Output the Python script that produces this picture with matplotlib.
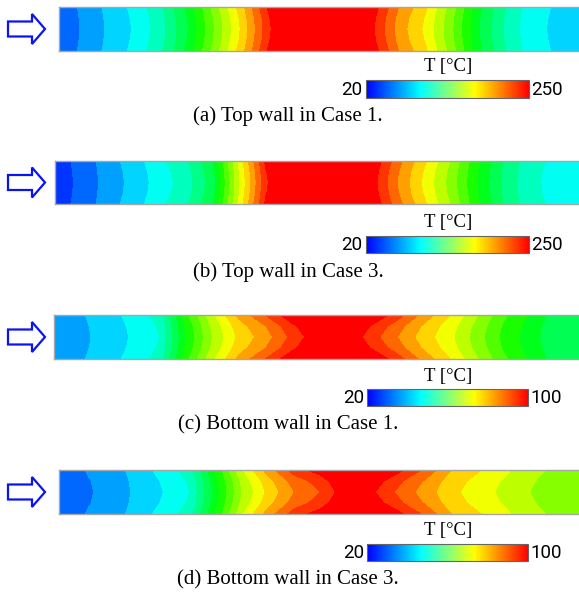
"""
Wall temperature contours for the top and bottom walls, Case 1 and Case 3.
"""

import matplotlib

matplotlib.use("Agg")

import matplotlib.pyplot as plt
import numpy as np
from matplotlib.cm import ScalarMappable
from matplotlib.colors import (
    BoundaryNorm,
    LinearSegmentedColormap,
    ListedColormap,
    Normalize,
)
from matplotlib.patches import FancyArrow

W, H = 579, 592
N_BANDS = 20

# stream-wise stations along the wall (0 = inlet, 1 = outlet)
x_pos = [0.00, 0.05, 0.10, 0.15, 0.20, 0.25, 0.30, 0.35, 0.40, 0.45, 0.50,
         0.55, 0.60, 0.65, 0.70, 0.75, 0.80, 0.85, 0.90, 0.95, 1.00]

# cross-stream rows and how much of the wall excess each row gets
y_rows = [0.0, 0.25, 0.5, 0.75, 1.0]
wall_weight = [1.0, 0.3, 0.0, 0.3, 1.0]

# centre-line temperature [C] and wall-edge excess [C]
t_top_case1 = [45, 57, 69, 80, 98, 125, 160, 195, 235, 265, 275,
               265, 240, 210, 190, 160, 125, 100, 82, 75, 68]
dt_top_case1 = [1, 1, 1.5, 2, 3, 4, 5, 5, 5, 5, 5,
                5, 5, 5, 5, 4, 3, 2, 1.5, 1, 0.5]

t_top_case3 = [36, 46, 59, 70, 83, 95, 118, 180, 236, 262, 275,
               270, 245, 215, 190, 165, 135, 110, 92, 85, 80]
dt_top_case3 = [1, 1, 1.5, 2, 3, 4, 5, 5, 5, 5, 5,
                5, 5, 5, 5, 4, 3, 2, 1.5, 1, 0.5]

t_bot_case1 = [34, 35, 37.5, 40.5, 44, 60, 72, 81, 86, 93, 99,
               100, 94, 88, 82, 77, 70, 63, 58, 53, 52]
dt_bot_case1 = [0.5, 0.5, 0.7, 1, 1.5, 2.5, 3, 4, 6, 6, 6,
                6, 6, 6, 4.5, 3, 2.5, 2, 1.5, 1, 1]

t_bot_case3 = [30, 31.5, 33, 37, 40, 44, 58, 72, 81, 88, 92,
               99, 96.5, 91, 86, 81, 78, 75, 72, 70, 68]
dt_bot_case3 = [0.5, 0.5, 0.7, 1, 1.5, 2, 2.5, 3.5, 5, 6, 6,
                6, 6, 6, 5, 3, 2.5, 2, 1.5, 1, 1]

t_min = [20, 20, 20, 20]
t_max = [250, 250, 100, 100]

captions = [
    "(a) Top wall in Case 1.",
    "(b) Top wall in Case 3.",
    "(c) Bottom wall in Case 1.",
    "(d) Bottom wall in Case 3.",
]

# layout in pixels: strip box, colorbar box, caption y
strip_boxes = [(59, 7, 582, 51), (55, 161, 582, 204),
               (54, 315, 582, 359), (59, 470, 582, 514)]
cbar_boxes = [(366, 80, 529, 98), (366, 236, 529, 253),
              (367, 389, 528, 406), (367, 544, 528, 561)]
caption_y = [116, 272, 425, 580]

rainbow = LinearSegmentedColormap.from_list(
    "fluent", ["#0000ff", "#00ffff", "#00ff00", "#ffff00", "#ff0000"])
cmap_field = ListedColormap(rainbow(np.linspace(0, 1, N_BANDS)))
cmap_field.set_over("#ff0000")
cmap_field.set_under("#0000ff")
cmap_bar = LinearSegmentedColormap.from_list(
    "bar", ["#0000ff", "#00ffff", "#ffff00", "#ff0000"])


def px_rect(x0, y0, x1, y1):
    """Pixel box (top-left origin) to figure fraction rect."""
    return [x0 / W, 1 - y1 / H, (x1 - x0) / W, (y1 - y0) / H]


def draw_strip(fig, box, t_center, dt_wall, vmin, vmax):
    ax = fig.add_axes(px_rect(*box))
    tc = np.asarray(t_center, dtype=float)
    dt = np.asarray(dt_wall, dtype=float)
    w = np.asarray(wall_weight)
    field = tc[None, :] + w[:, None] * dt[None, :]
    levels = np.linspace(vmin, vmax, N_BANDS + 1)
    ax.contourf(x_pos, y_rows, field, levels=levels, cmap=cmap_field,
                norm=BoundaryNorm(levels, N_BANDS), extend="both")
    ax.set_xlim(0, 1)
    ax.set_ylim(0, 1)
    ax.set_xticks([])
    ax.set_yticks([])
    for sp in ax.spines.values():
        sp.set_edgecolor("0.65")
        sp.set_linewidth(1.0)
    return ax


def draw_colorbar(fig, box, vmin, vmax):
    cax = fig.add_axes(px_rect(*box))
    cb = fig.colorbar(ScalarMappable(Normalize(vmin, vmax), cmap_bar),
                      cax=cax, orientation="horizontal")
    cb.set_ticks([])
    cb.outline.set_edgecolor("0.4")
    cb.outline.set_linewidth(0.8)
    cax.text(-0.02, 0.45, str(vmin), transform=cax.transAxes,
             ha="right", va="center", fontsize=13.5, family="Roboto")
    cax.text(1.015, 0.45, str(vmax), transform=cax.transAxes,
             ha="left", va="center", fontsize=13.5, family="Roboto")
    return cax


fig = plt.figure(figsize=(W / 100, H / 100), dpi=100)

strips = [
    (t_top_case1, dt_top_case1),
    (t_top_case3, dt_top_case3),
    (t_bot_case1, dt_bot_case1),
    (t_bot_case3, dt_bot_case3),
]

for i, (tc, dt) in enumerate(strips):
    draw_strip(fig, strip_boxes[i], tc, dt, t_min[i], t_max[i])
    draw_colorbar(fig, cbar_boxes[i], t_min[i], t_max[i])

# overlay in pixel coordinates for arrows and text
over = fig.add_axes([0, 0, 1, 1])
over.set_xlim(0, W)
over.set_ylim(H, 0)
over.axis("off")
over.patch.set_visible(False)

for i in range(4):
    x0, y0, x1, y1 = strip_boxes[i]
    yc = (y0 + y1) / 2
    over.add_patch(FancyArrow(8, yc, 37, 0, width=15, head_width=30,
                              head_length=13, length_includes_head=True,
                              fill=False, edgecolor="#0a14f0", linewidth=1.6))
    cx0, cy0, cx1, cy1 = cbar_boxes[i]
    over.text((cx0 + cx1) / 2 + 1, cy0 - 13, "T [°C]", ha="center",
              va="center", fontsize=13.5, family="Liberation Serif")
    over.text(288, caption_y[i], captions[i], ha="center", va="center",
              fontsize=15, family="Liberation Serif")

fig.savefig("out.png", dpi=100)
